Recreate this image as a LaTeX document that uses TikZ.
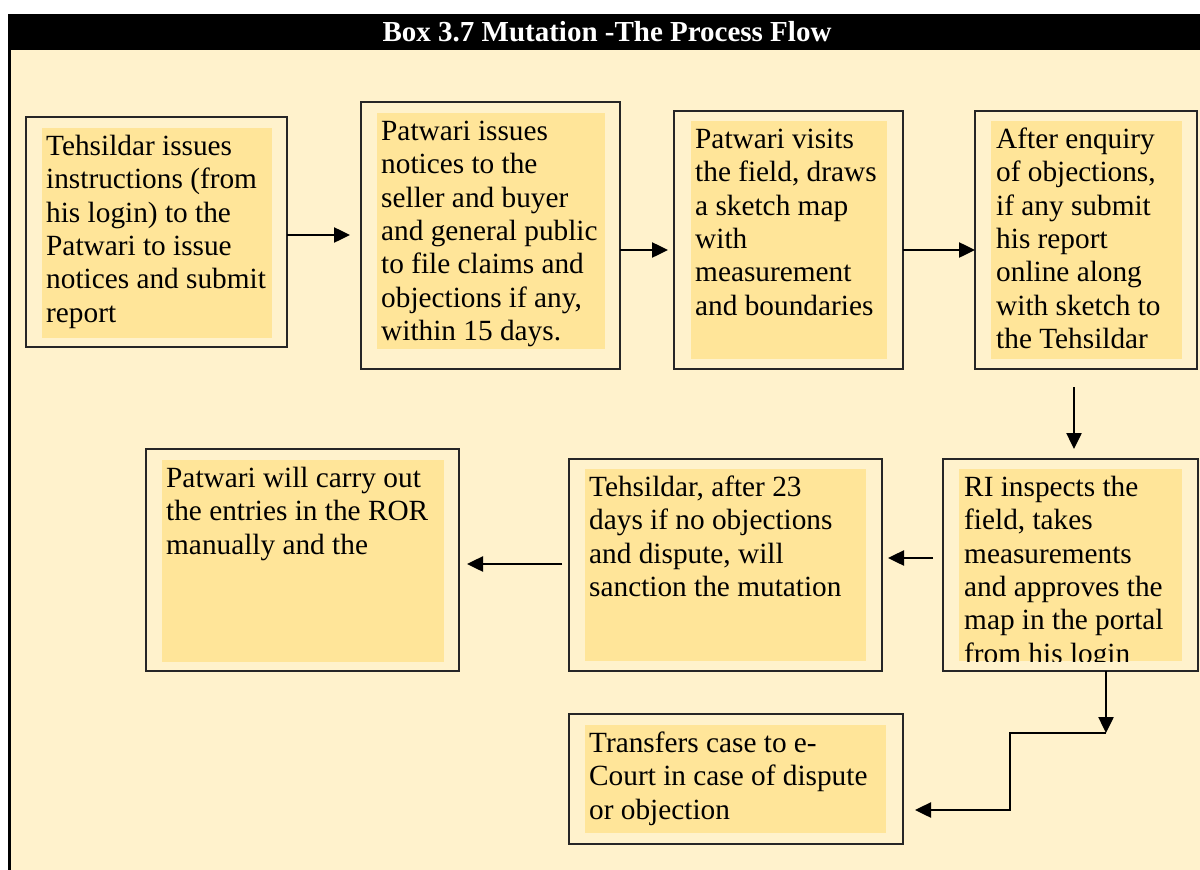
\documentclass[tikz,border=0pt]{standalone}
\usepackage{fontspec}
\setmainfont{Liberation Serif}
\usetikzlibrary{arrows.meta}
\definecolor{cream}{HTML}{FFF2CC}
\definecolor{gold}{HTML}{FFE599}
\tikzset{
  outerbox/.style={draw=black!85, line width=1.1pt, fill=cream, inner sep=0pt, outer sep=0pt},
  innerbox/.style={fill=gold, draw=none, inner sep=0pt, outer sep=0pt},
  txt/.style={anchor=north west, inner sep=0pt, align=left, font={\fontsize{29.3}{33.4}\selectfont}},
  arr/.style={line width=2.5pt, line join=miter, -{Triangle[length=16pt,width=15pt]}},
}
\newcommand{\firstline}{\rule{0pt}{27pt}}
\begin{document}
\begin{tikzpicture}[x=1pt,y=-1pt]
\useasboundingbox (0,0) rectangle (1200,870);
\fill[white] (0,0) rectangle (1200,870);
\fill[cream] (11,50) rectangle (1200,870);
\fill[black] (8,14) rectangle (1200,50);
\fill[black] (8,14) rectangle (11,870);
\node[font={\bfseries\fontsize{29}{33}\selectfont}, text=white, inner sep=0pt] (title) at (607,32) {Box 3.7 Mutation -The Process Flow};

% box 1
\node[outerbox, minimum width=261pt, minimum height=230pt] (b1) at (156.5,232) {};
\node[innerbox, minimum width=230pt, minimum height=210pt] (b1in) at (157,233) {};
\node[txt] (t1) at (46,128) {\firstline Tehsildar issues\\instructions (from\\his login) to the\\Patwari to issue\\notices and submit\\report};

% box 2
\node[outerbox, minimum width=259pt, minimum height=267pt] (b2) at (490.5,235.5) {};
\node[innerbox, minimum width=228pt, minimum height=236pt] (b2in) at (491,231) {};
\node[txt] (t2) at (381,113) {\firstline Patwari issues\\notices to the\\seller and buyer\\and general public\\to file claims and\\objections if any,\\within 15 days.};

% box 3
\node[outerbox, minimum width=229pt, minimum height=258pt] (b3) at (788.5,240) {};
\node[innerbox, minimum width=196pt, minimum height=238pt] (b3in) at (789,240) {};
\node[txt] (t3) at (695,121) {\firstline Patwari visits\\the field, draws\\a sketch map\\with\\measurement\\and boundaries};

% box 4
\node[outerbox, minimum width=222pt, minimum height=258pt] (b4) at (1086,240) {};
\node[innerbox, minimum width=191pt, minimum height=238pt] (b4in) at (1086.5,240) {};
\node[txt] (t4) at (996,121) {\firstline After enquiry\\of objections,\\if any submit\\his report\\online along\\with sketch to\\the Tehsildar};

% RI box
\node[outerbox, minimum width=255pt, minimum height=212pt] (ri) at (1070.5,565) {};
\node[innerbox, minimum width=223pt, minimum height=192pt] (riin) at (1070.5,565) {};
\begin{scope}
\clip (riin.north west) rectangle (riin.south east);
\node[txt] (tri) at (964,469) {\firstline RI inspects the\\field, takes\\measurements\\and approves the\\map in the portal\\from his login};
\end{scope}

% Tehsildar box
\node[outerbox, minimum width=313pt, minimum height=212pt] (teh) at (725.5,565) {};
\node[innerbox, minimum width=281pt, minimum height=192pt] (tehin) at (725.5,565) {};
\node[txt] (tteh) at (589,469) {\firstline Tehsildar, after 23\\days if no objections\\and dispute, will\\sanction the mutation};

% Patwari box
\node[outerbox, minimum width=313pt, minimum height=222pt] (pat) at (302.5,560) {};
\node[innerbox, minimum width=282pt, minimum height=202pt] (patin) at (303,561) {};
\node[txt] (tpat) at (166,460) {\firstline Patwari will carry out\\the entries in the ROR\\manually and the};

% Transfers box
\node[outerbox, minimum width=334pt, minimum height=130pt] (tr) at (736,779) {};
\node[innerbox, minimum width=301pt, minimum height=108pt] (trin) at (735.5,779) {};
\node[txt] (ttr) at (589,725) {\firstline Transfers case to e-\\Court in case of dispute\\or objection};

% connectors
\coordinate (a1e) at (350,235);
\draw[arr] (b1.east |- a1e) -- (a1e);
\coordinate (a2e) at (668,250);
\draw[arr] (b2.east |- a2e) -- (a2e);
\coordinate (a3y) at (0,250);
\draw[arr] (b3.east |- a3y) -- (b4.west |- a3y);
\coordinate (a4s) at (1074,387);
\coordinate (a4e) at (1074,449);
\draw[arr] (a4s) -- (a4e);
\coordinate (a5s) at (933,558);
\coordinate (a5e) at (888,558);
\draw[arr] (a5s) -- (a5e);
\coordinate (a6s) at (562,564);
\coordinate (a6e) at (467,564);
\draw[arr] (a6s) -- (a6e);
\coordinate (a7e) at (1106,733);
\draw[arr] (ri.south -| a7e) -- (a7e);
\coordinate (k) at (1010,810);
\coordinate (a8e) at (915,810);
\draw[arr] (a7e) -| (k) -- (a8e);
\end{tikzpicture}
\end{document}
